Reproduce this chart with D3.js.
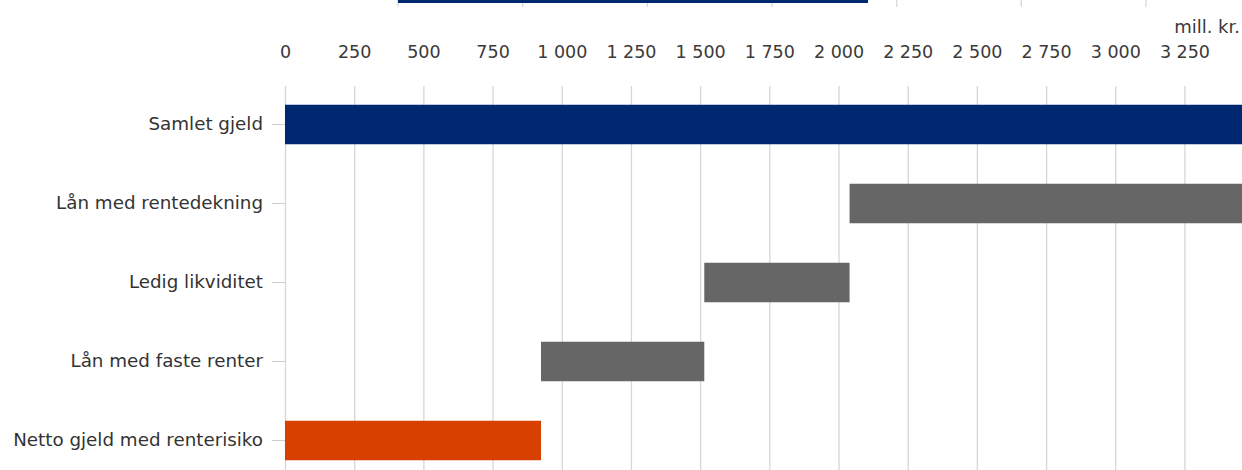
<!DOCTYPE html>
<html>
<head>
<meta charset="UTF-8">
<script src="https://cdn.jsdelivr.net/npm/d3@7"></script>
<style>
  body { margin: 0; background: #fff; }
  svg { display: block; }
  svg text { font-family: "DejaVu Sans", Verdana, sans-serif; }
  .grid line { stroke: #d6d6d6; stroke-width: 1.3; }
  .grid .domain { display: none; }
  .xaxis text { fill: #3a3a3a; font-size: 17.5px; }
  .xaxis line, .xaxis .domain { display: none; }
  .yaxis text { fill: #333; font-size: 18.3px; }
  .yaxis line { stroke: #ccc; }
  .yaxis .domain { display: none; }
</style>
</head>
<body>
<script>
// categories, top to bottom
const categories = [
  "Samlet gjeld",
  "Lån med rentedekning",
  "Ledig likviditet",
  "Lån med faste renter",
  "Netto gjeld med renterisiko"
];
// waterfall: start and end of each bar (mill. kr.)
const barStart = [0, 2040, 1515, 925, 0];
const barEnd   = [3458, 3458, 2040, 1515, 925];
const barColor = ["#002870", "#666666", "#666666", "#666666", "#d84000"];
const tickValues = [0, 250, 500, 750, 1000, 1250, 1500, 1750, 2000, 2250, 2500, 2750, 3000, 3250];
const unitLabel = "mill. kr.";

// bottom edge of the chart above (cut off at the top of the picture)
const prevTicks = [0, 1, 2, 3, 4, 5, 6];
const prevBar = 3.77;

const width = 1242, height = 470;
const margin = {top: 86, right: 0, bottom: 0, left: 285};

const svg = d3.select("body").append("svg")
  .attr("width", width)
  .attr("height", height);

const nb = d3.formatLocale({decimal: ",", thousands: " ", grouping: [3], currency: ["", ""]}).format(",d");

const x = d3.scaleLinear()
  .domain([0, 3458])
  .range([margin.left, width - margin.right]);

const y = d3.scaleBand()
  .domain(categories)
  .range([margin.top - 1, margin.top - 1 + 79 * categories.length])
  .paddingInner(0.5)
  .paddingOuter(0.25);

// gridlines
svg.append("g")
  .attr("class", "grid")
  .attr("transform", `translate(0,${margin.top})`)
  .call(d3.axisBottom(x).tickValues(tickValues).tickSize(height).tickFormat(""));

// top axis labels
svg.append("g")
  .attr("class", "xaxis")
  .attr("transform", "translate(0,37)")
  .call(d3.axisBottom(x).tickValues(tickValues).tickSize(0).tickFormat(nb))
  .selectAll("text").attr("dy", "1em");

svg.append("text")
  .attr("x", width - 2)
  .attr("y", 33)
  .attr("text-anchor", "end")
  .attr("fill", "#3a3a3a")
  .style("font-size", "18px")
  .text(unitLabel);

// category axis
svg.append("g")
  .attr("class", "yaxis")
  .attr("transform", `translate(${margin.left},0)`)
  .call(d3.axisLeft(y).tickSize(13).tickPadding(9));

// bars
svg.append("g")
  .selectAll("rect")
  .data(categories)
  .join("rect")
    .attr("x", (d, i) => x(barStart[i]))
    .attr("width", (d, i) => x(barEnd[i]) - x(barStart[i]))
    .attr("y", d => y(d))
    .attr("height", y.bandwidth())
    .attr("fill", (d, i) => barColor[i]);

// remnant of previous chart at the very top
const px = d3.scaleLinear().domain([0, 6]).range([398, 1146]);
const prev = svg.append("g");
prev.selectAll("line")
  .data(prevTicks)
  .join("line")
    .attr("x1", d => px(d)).attr("x2", d => px(d))
    .attr("y1", 0).attr("y2", 7)
    .attr("stroke", "#d9d9d9")
    .attr("stroke-width", 1.3);
prev.append("rect")
  .attr("x", px(0))
  .attr("width", px(prevBar) - px(0))
  .attr("y", 0)
  .attr("height", 3)
  .attr("fill", "#002870");
</script>
</body>
</html>
